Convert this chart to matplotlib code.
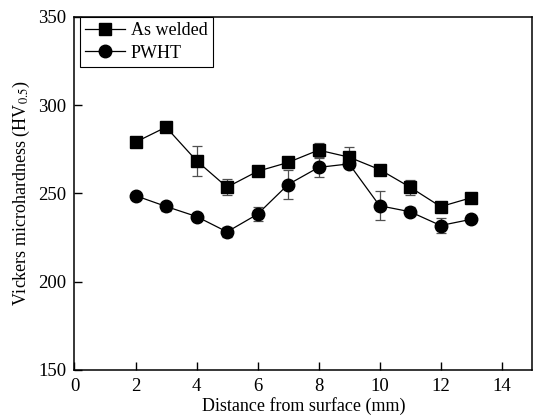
import numpy as np
import matplotlib
matplotlib.use("Agg")
import matplotlib.pyplot as plt

plt.rcParams['font.family'] = ['Liberation Serif', 'DejaVu Serif']
plt.rcParams['mathtext.fontset'] = 'stix'

# Datos
distancia = [2, 3, 4, 5, 6, 7, 8, 9, 10, 11, 12, 13]
as_welded = [279, 287.5, 268.5, 253.5, 262.5, 267.5, 274.5, 270.5, 263.5, 253.5, 242.5, 247.5]
as_welded_err = [2.5, 1.5, 8.5, 4.4, 2.0, 3.0, 3.8, 6.0, 2.0, 4.2, 2.0, 1.5]
pwht = [248.7, 242.6, 236.9, 228.2, 238.2, 255.0, 264.7, 266.7, 243.0, 239.6, 231.8, 235.3]
pwht_err = [1.5, 2.5, 1.5, 2.8, 4.0, 8.3, 5.5, 2.0, 8.2, 2.5, 4.2, 1.5]

fig = plt.figure(figsize=(5.34, 4.19), dpi=100)
ax = fig.add_axes([0.1395, 0.117, 0.857, 0.843])

ax.errorbar(distancia, as_welded, yerr=as_welded_err, fmt='none', ecolor='#505050',
            elinewidth=0.9, capsize=3.5, capthick=0.9, zorder=2)
ax.errorbar(distancia, pwht, yerr=pwht_err, fmt='none', ecolor='#505050',
            elinewidth=0.9, capsize=3.5, capthick=0.9, zorder=2)
ax.plot(distancia, as_welded, marker='s', color='black', markersize=8,
        linewidth=0.9, label='As welded', zorder=3)
ax.plot(distancia, pwht, marker='o', color='black', markersize=9,
        linewidth=0.9, label='PWHT', zorder=3)

ax.set_xlim(0, 15)
ax.set_ylim(150, 350)
ax.set_xticks(np.arange(0, 15, 2))
ax.set_yticks(np.arange(150, 351, 50))
ax.tick_params(direction='in', length=6, width=1, labelsize=13.5, top=False, right=False)
ax.tick_params(axis='x', pad=6)
ax.tick_params(axis='y', pad=6)
for s in ax.spines.values():
    s.set_linewidth(1.1)

ax.set_xlabel('Distance from surface (mm)', fontsize=13, labelpad=1)
ax.set_ylabel('Vickers microhardness (HV$_{0.5}$)', fontsize=13, labelpad=4)

leg = ax.legend(loc='upper left', fontsize=13, fancybox=False, edgecolor='black',
                framealpha=1, borderaxespad=0.0, handlelength=2.2,
                borderpad=0.3, labelspacing=0.3, handletextpad=0.3,
                bbox_to_anchor=(0.012, 1.0))
leg.get_frame().set_linewidth(0.8)

fig.savefig('out.png', dpi=100)
